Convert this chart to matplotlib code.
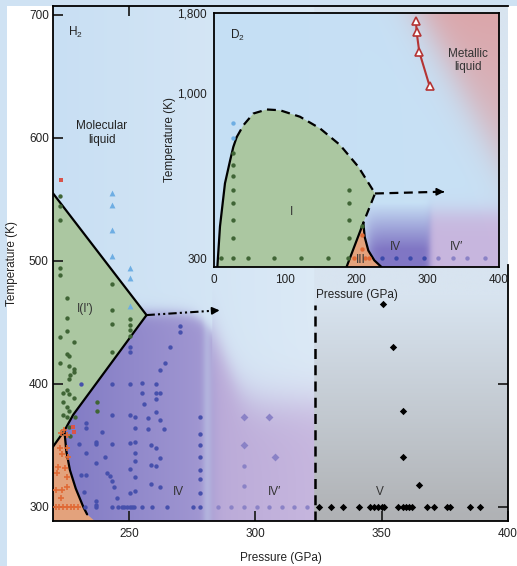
import numpy as np
import matplotlib.pyplot as plt
from matplotlib.patches import Polygon, Rectangle

plt.rcParams['font.family'] = ['Liberation Sans', 'DejaVu Sans']
plt.rcParams['mathtext.default'] = 'regular'

# ---------------- main panel (H2) data ----------------
# phase boundaries (P in GPa, T in K)
liq_I_P = [220, 257]
liq_I_T = [555, 456]
I_IV_P = [257, 228, 224.5]
I_IV_T = [456, 375, 362]
I_III_P = [224.5, 220]
I_III_T = [362, 349]
III_IV_P = [224.5, 225.3, 226.7, 229.0, 232.0, 233.5]
III_IV_T = [362, 345, 330, 315, 300, 294]
arrow_P = [257, 287]
arrow_T = [456, 460]
V_line_P = [323.5, 323.5]
V_line_T = [288.6, 464]

red_sq_P = [223.2, 228.1, 228.3]
red_sq_T = [566, 365, 361]

grn_P = [222.8, 222.8, 222.8, 222.8, 222.8, 225.4, 225.4, 225.4, 222.8, 228.3,
         243.3, 243.3, 243.3, 250.3, 250.3, 250.3, 250.3,
         225.4, 226.3, 222.8, 226.3, 228.3, 228.3, 226.7, 226.3,
         224.1, 225.4, 226.3, 228.3, 224.1, 225.4, 226.3, 224.1, 225.4, 228.7,
         226.3, 226.7, 237.3, 237.3, 243.3]
grn_T = [553, 545, 533, 494, 489, 470, 454, 443, 438, 434,
         481, 460, 449, 453, 448, 444, 439,
         424, 423, 417, 415, 412, 410, 407, 404,
         393, 395, 392, 389, 385, 381, 378, 375, 373, 373,
         365, 358, 385, 378, 426]

tri_P = [243.3, 243.3, 243.3, 243.3, 250.3, 250.3, 250.3]
tri_T = [555, 545.5, 525, 504, 494, 486, 463]

IV_P = [270.4, 270.4, 266.4, 264.4, 262.5, 250.3, 250.3,
        231.1, 243.3, 250.3, 255.4, 260.7, 255.4, 260.7, 262.5,
        260.7, 256.1, 260.7, 233.1, 233.1,
        243.3, 250.3, 252.3, 257.6, 262.5, 252.3, 257.6, 263.8, 239.3,
        230.3, 237.1, 237.1, 243.3, 252.3, 250.3, 258.7, 260.7,
        233.1, 252.3, 240.4, 262.5, 237.1, 252.3, 258.7, 260.7, 250.3,
        231.1, 233.1, 241.3, 242.6, 252.3, 243.3, 244.2, 258.7, 262.5,
        250.3, 252.3, 245.3, 232.3, 237.1, 237.1,
        278.1, 278.1, 278.1, 278.1, 278.1, 278.1, 278.1, 278.1,
        232.7, 237.1, 243.3, 245.6, 247.1, 248.1, 249.2, 250.3, 251.2, 251.9,
        255.2, 259.2, 265.1, 275.4]
IV_T = [447, 442, 430, 417, 411, 430, 426,
        400, 400, 400, 401, 400, 393, 393, 393,
        388, 384, 377, 368, 364,
        375, 375, 373, 372, 371, 364, 363, 363, 361,
        351, 353, 351, 351, 353, 352, 350, 348,
        344, 344, 341, 340, 336, 337, 334, 333, 331,
        326, 326, 328, 325, 324, 321, 316, 319, 316,
        311, 313, 307, 312, 305, 302,
        373, 359, 350, 341, 330, 323, 311, 300,
        300, 300, 300, 300, 300, 300, 300, 300, 300, 300,
        300, 300, 300, 300]

IVp_dot_P = [285.4, 290.5, 295.5, 300.6, 305.5, 310.5, 315.4, 320.4, 295.5, 295.5]
IVp_dot_T = [300, 300, 300, 300, 300, 300, 300, 300, 333, 317]
IVp_dia_P = [295.5, 305.6, 295.5, 307.7]
IVp_dia_T = [373, 373, 350, 341]

V_P = [350.4, 354.4, 358.5, 358.5, 364.7,
       325.3, 329.8, 334.9, 341.2, 345.4, 346.9, 348.4, 350.3, 350.9, 356.6,
       358.4, 359.5, 360.7, 362.2, 368.0, 370.7, 375.9, 376.9, 384.8, 388.8]
V_T = [465, 430, 378, 341, 318] + [300] * 20

III_P = [223.1, 224.4, 225.4, 222.8, 225.4, 223.4, 226.1, 222.1, 224.8, 225.4,
         221.5, 221.2, 223.4, 225.4, 223.1, 221.0, 222.5, 224.0, 225.5, 227.0,
         228.5, 230.0]
III_T = [360.4, 362.6, 358.5, 347.7, 347.7, 343, 341, 332.8, 331.5, 324.6,
         327.4, 313.8, 313.8, 316.5, 307, 300, 300, 300, 300, 300, 300, 300]

# ---------------- inset (D2) data ----------------
melt_P = [4.7, 8.4, 15.4, 22.5, 27.1, 31.8]
melt_T = [281, 378, 518, 611, 676, 726]
dash_P = [31.8, 41.2, 55.2, 74, 92.6, 120.7, 148.8, 176.8, 202.5, 226, 209.6]
dash_T = [726, 792, 863, 889, 884, 843, 774, 686, 585, 481, 388]
dI_III_P = [209.6, 186]
dI_III_T = [388, 281]
dIII_IV_P = [209.6, 211.5, 216.6, 225, 235]
dIII_IV_T = [388, 350, 317, 295, 281]
darrow_P = [226, 327]
darrow_T = [481, 487]

metal_P = [283.5, 284.4, 288.1, 302.7]
metal_T = [1693, 1566, 1355, 1053]

d_blue_P = [27.1, 27.1]
d_blue_T = [805, 724]
d_grn_P = [27.1] * 8 + [189.9] * 4 + [9.8, 48.2, 84.7, 122.1, 159.6, 188.6, 207.3]
d_grn_T = [647, 594, 545, 495, 449, 396, 347, 300, 495, 449, 396, 347,
           300, 300, 300, 300, 300, 300, 378]
d_III_P = [207.3, 207.3, 197, 212, 218]
d_III_T = [354, 321, 300, 300, 300]
d_IV_P = [235.3, 255.4, 275.1, 295.2]
d_IVp_P = [314.8, 335, 354.6, 380.3]


def sig(x):
    return 1.0 / (1.0 + np.exp(-x))


def lerp(c0, c1, f):
    c0 = np.array(c0, float) / 255
    c1 = np.array(c1, float) / 255
    return c0 + (c1 - c0) * f[..., None]


fig = plt.figure(figsize=(5.17, 5.66), dpi=100, facecolor='#cfe2f3')
fig.patches.append(Rectangle((7 / 517, 0), 1, 1 - 6 / 566, transform=fig.transFigure,
                             facecolor='white', edgecolor='none', zorder=-5))

ax = fig.add_axes([53 / 517, 1 - 521 / 566, 455 / 517, 515 / 566])
xlo, xhi, ylo, yhi = 220, 400, 288.6, 707.3

# background shading of the main panel
P, T = np.meshgrid(np.linspace(xlo, xhi, 500), np.linspace(ylo, yhi, 500))
img = lerp((200, 223, 243), (234, 241, 248), np.clip((P - 220) / 180, 0, 1))
Tb = 385 + 73 * sig((288 - P) / 4)
w4 = sig((283 - P) / 1.5)
c4 = lerp((128, 122, 196), (162, 152, 210), np.clip((P - 222) / 60, 0, 1))
c4p = lerp((186, 170, 216), (198, 182, 222), np.clip((P - 283) / 40, 0, 1))
cp = c4 * w4[..., None] + c4p * (1 - w4[..., None])
band = 0.55 * np.exp(-((P - 281) / 1.8) ** 2)
cp = cp * (1 - band[..., None]) + np.array([188, 198, 230]) / 255 * band[..., None]
ap = sig((Tb - T) / np.where(P < 283, 3.0, 10.0))
img = img * (1 - ap[..., None]) + cp * ap[..., None]
cv = lerp((176, 178, 181), (216, 228, 240), np.clip((T - 292) / 180, 0, 1))
mv = (P >= 323.5)[..., None]
img = np.where(mv, cv, img)
ax.imshow(img, origin='lower', extent=(xlo, xhi, ylo, yhi), aspect='auto', zorder=0,
          interpolation='bilinear')

# phase regions
grn_poly = list(zip(liq_I_P, liq_I_T)) + list(zip(I_IV_P[1:], I_IV_T[1:])) + [(220, 349), (220, 555)]
ax.add_patch(Polygon(grn_poly, closed=True, facecolor='#abc7a1', edgecolor='none', zorder=1))
org_poly = [(220, 349)] + list(zip(III_IV_P, III_IV_T)) + [(236.5, ylo), (220, ylo)]
ax.add_patch(Polygon(org_poly, closed=True, facecolor='#e3a27c', edgecolor='none', zorder=1))

lk = dict(color='k', lw=1.6, zorder=2, solid_capstyle='round')
ax.plot(liq_I_P, liq_I_T, **lk)
ax.plot(I_IV_P, I_IV_T, **lk)
ax.plot(I_III_P, I_III_T, **lk)
ax.plot(III_IV_P, III_IV_T, **lk)
ax.plot(V_line_P, V_line_T, color='k', lw=1.8, dashes=(4, 2.5), zorder=2)
ax.plot([arrow_P[0], arrow_P[1] - 4], [arrow_T[0], arrow_T[1] - 0.5], color='k', lw=1.5,
        dashes=(4, 1.5, 1, 1.5, 1, 1.5), zorder=2)
ax.annotate('', xy=(arrow_P[1], arrow_T[1]), xytext=(arrow_P[1] - 4, arrow_T[1] - 0.5),
            arrowprops=dict(arrowstyle='-|>', color='k', lw=1.2, mutation_scale=11), zorder=3)

ms = 10
ax.scatter(grn_P, grn_T, s=ms, color='#3f6535', zorder=3, linewidths=0)
ax.scatter(tri_P, tri_T, s=18, marker='^', color='#6eaee3', zorder=3, linewidths=0)
ax.scatter(IV_P, IV_T, s=ms, color='#4650ac', zorder=3, linewidths=0)
ax.scatter(IVp_dot_P, IVp_dot_T, s=ms, color='#8a82c6', zorder=3, linewidths=0)
ax.scatter(IVp_dia_P, IVp_dia_T, s=16, marker='D', color='#8a82c6', zorder=3, linewidths=0)
ax.scatter(V_P, V_T, s=14, marker='D', color='k', zorder=3, linewidths=0)
ax.scatter(III_P, III_T, s=14, marker='+', color='#e06a36', zorder=3, linewidths=1.2)
ax.scatter(red_sq_P, red_sq_T, s=12, marker='s', color='#d9534a', zorder=3, linewidths=0)

fs = 8.5
ax.text(226, 686, 'H$_2$', fontsize=fs, color='#222222', va='center')
ax.text(239.4, 604, 'Molecular\nliquid', fontsize=fs, ha='center', va='center',
        color='#222222', linespacing=1.2)
ax.text(232.7, 461, 'I(I\u2032)', fontsize=fs, ha='center', va='center', color='#333333')
ax.text(269.6, 312, 'IV', fontsize=fs, ha='center', va='center', color='#333333')
ax.text(307.7, 312.5, 'IV\u2032', fontsize=fs, ha='center', va='center', color='#333333')
ax.text(349.5, 312.5, 'V', fontsize=fs, ha='center', va='center', color='#333333')

ax.set_xlim(xlo, xhi)
ax.set_ylim(ylo, yhi)
ax.set_xticks([250, 300, 350, 400])
ax.set_yticks([300, 400, 500, 600, 700])
ax.tick_params(direction='in', length=7, width=1.3, top=True, right=True,
               labelsize=fs, colors='#222222')
ax.tick_params(axis='x', pad=5)
ax.tick_params(axis='y', pad=3)
for s in ax.spines.values():
    s.set_linewidth(1.3)
# right frame and ticks are hidden behind the inset at the top
ax.spines['right'].set_bounds(ylo, 497)
for tk, val in zip(ax.yaxis.get_major_ticks(), ax.get_yticks()):
    tk.tick2line.set_visible(val < 450)
for tk, val in zip(ax.xaxis.get_major_ticks(), ax.get_xticks()):
    tk.tick2line.set_visible(val < 280)
ax.set_xlabel('Pressure (GPa)', fontsize=fs, color='#222222', labelpad=9)
ax.set_ylabel('Temperature (K)', fontsize=fs, color='#222222', labelpad=8)

# ---------------- inset ----------------
ins = fig.add_axes([214 / 517, 1 - 267 / 566, 285 / 517, 254 / 566])
iy0, iy1 = 281, 1800
u, v = np.meshgrid(np.linspace(0, 1, 400), np.linspace(0, 1, 400))
IP = 400 * u
IT = iy0 * np.exp(v * np.log(iy1 / iy0))
im2 = lerp((197, 223, 245), (200, 225, 245), u)
d = ((u - 0.69) * 0.65 + (v - 1.0) * 0.31) / np.hypot(0.65, 0.31)
ar = 0.88 * sig((d - 0.03) / 0.035) * (0.45 + 0.55 * v)
im2 = im2 * (1 - ar[..., None]) + np.array([222, 158, 160]) / 255 * ar[..., None]
w = sig((IP - 303) / 2.5)
civ = np.array([128, 118, 196]) / 255 * (1 - w[..., None]) + \
    np.array([200, 182, 222]) / 255 * w[..., None]
a_iv = np.clip((450 - IT) / 130, 0, 1) ** 1.1 * sig((IP - 214) / 5)
a_ivp = sig((420 - IT) / 18)
a = a_iv * (1 - w) + a_ivp * w
im2 = im2 * (1 - a[..., None]) + civ * a[..., None]
ins.imshow(im2, origin='lower', extent=(0, 1, 0, 1), transform=ins.transAxes,
           aspect='auto', zorder=0, interpolation='bilinear')

ins.set_yscale('log')
ins.set_xlim(0, 400)
ins.set_ylim(iy0, iy1)

g2 = list(zip(melt_P, melt_T)) + list(zip(dash_P[1:], dash_T[1:])) + [(186, 281)]
ins.add_patch(Polygon(g2, closed=True, facecolor='#abc7a1', edgecolor='none', zorder=1))
o2 = list(zip(dIII_IV_P, dIII_IV_T)) + [(186, 281)]
ins.add_patch(Polygon(o2, closed=True, facecolor='#e3a27c', edgecolor='none', zorder=1))

ins.plot(melt_P, melt_T, **lk)
ins.plot(dash_P, dash_T, color='k', lw=1.6, dashes=(4, 2.5), zorder=2)
ins.plot(dI_III_P, dI_III_T, **lk)
ins.plot(dIII_IV_P, dIII_IV_T, **lk)
ins.plot([darrow_P[0], darrow_P[1] - 10], darrow_T, color='k', lw=1.6, dashes=(4, 2.5), zorder=2)
ins.annotate('', xy=(darrow_P[1], darrow_T[1]), xytext=(darrow_P[1] - 10, darrow_T[1]),
             arrowprops=dict(arrowstyle='-|>', color='k', lw=1.2, mutation_scale=11), zorder=3)
ins.plot(metal_P, metal_T, color='#b43434', lw=1.5, marker='^', ms=6, mfc='white',
         mec='#b43434', mew=1.2, zorder=3)

ins.scatter(d_blue_P, d_blue_T, s=ms, color='#6eaee3', zorder=3, linewidths=0)
ins.scatter(d_grn_P, d_grn_T, s=ms, color='#3f6535', zorder=3, linewidths=0)
ins.scatter(d_III_P, d_III_T, s=ms, color='#e06a36', zorder=3, linewidths=0)
ins.scatter(d_IV_P, [300] * len(d_IV_P), s=ms, color='#3c4aaa', zorder=3, linewidths=0)
ins.scatter(d_IVp_P, [300] * len(d_IVp_P), s=ms, color='#8a82c6', zorder=3, linewidths=0)

ins.text(22.5, 1527, 'D$_2$', fontsize=fs, color='#222222', va='center')
ins.text(109, 420, 'I', fontsize=fs, ha='center', va='center', color='#333333')
ins.text(206, 296, 'III', fontsize=fs, ha='center', va='center', color='#333333')
ins.text(254, 326, 'IV', fontsize=fs, ha='center', va='center', color='#333333')
ins.text(340.6, 326, 'IV\u2032', fontsize=fs, ha='center', va='center', color='#333333')
ins.text(357, 1271, 'Metallic\nliquid', fontsize=fs, ha='center', va='center',
         color='#333333', linespacing=1.2)

ins.set_xticks([0, 100, 200, 300, 400])
ins.set_yticks([300, 1000, 1800])
ins.set_yticklabels(['300', '1,000', '1,800'])
ins.yaxis.set_minor_locator(plt.NullLocator())
ins.tick_params(direction='in', length=0, labelsize=fs, colors='#222222', pad=5)
for s in ins.spines.values():
    s.set_linewidth(1.3)
ins.set_xlabel('Pressure (GPa)', fontsize=fs, color='#222222', labelpad=2)
ins.set_ylabel('Temperature (K)', fontsize=fs, color='#222222', labelpad=1)

fig.savefig('out.png', dpi=100)
